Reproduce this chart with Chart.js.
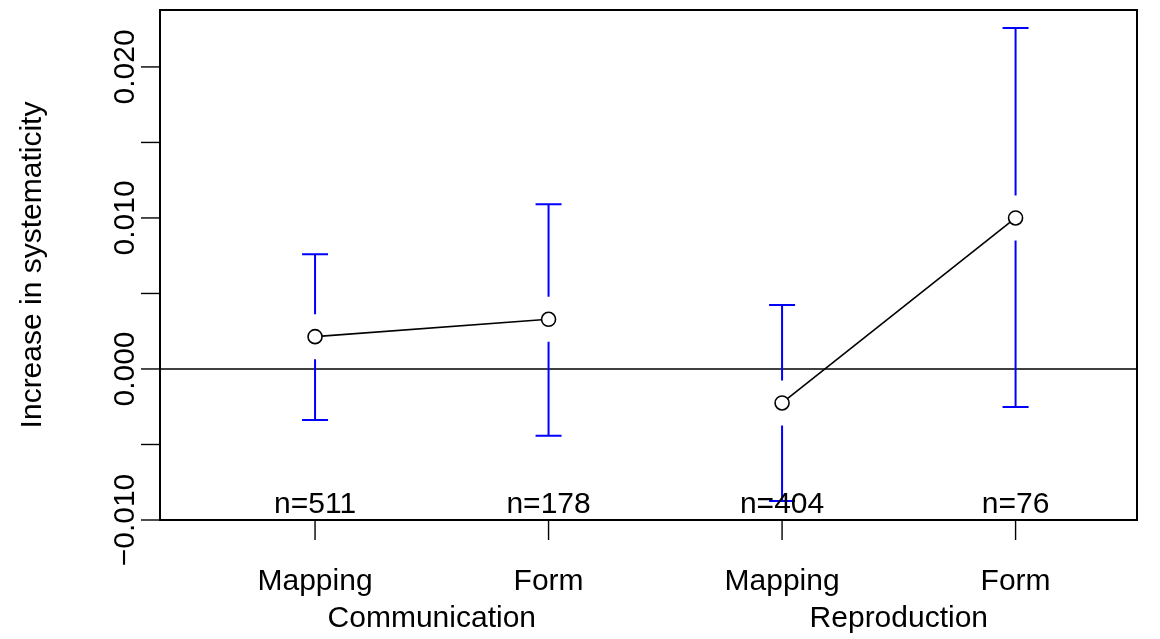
<!DOCTYPE html>
<html>
<head>
<meta charset="utf-8">
<script src="https://cdn.jsdelivr.net/npm/chart.js"></script>
<style>
  html, body { margin: 0; padding: 0; background: #fff; }
  #wrap { width: 1160px; height: 639px; }
</style>
</head>
<body>
<div id="wrap"><canvas id="grafico" width="1160" height="639"></canvas></div>
<script>
// dados
const condicoes = ['Mapping', 'Form', 'Mapping', 'Form'];
const grupos = ['Communication', 'Reproduction'];
const grupoDe = [0, 0, 1, 1];
const posX = [1, 2, 3, 4];
const medias = [0.00214, 0.00329, -0.00225, 0.0100];
const limSup = [0.00760, 0.01091, 0.00424, 0.02258];
const limInf = [-0.00338, -0.00442, -0.00874, -0.00252];
const contagens = [511, 178, 404, 76];
const yTicks = [-0.010, -0.005, 0.000, 0.005, 0.010, 0.015, 0.020];
const yTickLabels = ['\u22120.010', '', '0.000', '', '0.010', '', '0.020'];
const tituloY = 'Increase in systematicity';

const FONTE = '30px "Liberation Sans", Arial, Helvetica, sans-serif';

// uma serie de linha por grupo
const datasets = grupos.map((g, gi) => ({
    label: g,
    data: posX.filter((_, i) => grupoDe[i] === gi).map((x) => {
        const i = posX.indexOf(x);
        return { x: x, y: medias[i] };
    }),
    borderColor: '#000',
    borderWidth: 1.6,
    pointRadius: 7,
    pointHoverRadius: 7,
    pointBorderWidth: 1.6,
    pointBackgroundColor: '#fff',
    pointBorderColor: '#000',
    tension: 0
}));

const pluginR = {
    id: 'estiloR',
    beforeDatasetsDraw(chart) {
        const { ctx, chartArea: a, scales: { x, y } } = chart;
        ctx.save();
        // linha do zero
        ctx.strokeStyle = '#000';
        ctx.lineWidth = 1.6;
        ctx.beginPath();
        ctx.moveTo(a.left, y.getPixelForValue(0));
        ctx.lineTo(a.right, y.getPixelForValue(0));
        ctx.stroke();

        // barras de erro (com intervalo em volta do ponto)
        ctx.strokeStyle = '#0000ff';
        ctx.lineWidth = 2;
        const gap = 22.5, cap = 13;
        posX.forEach((xv, i) => {
            const px = x.getPixelForValue(xv);
            const pm = y.getPixelForValue(medias[i]);
            const pt = y.getPixelForValue(limSup[i]);
            const pb = y.getPixelForValue(limInf[i]);
            ctx.beginPath();
            ctx.moveTo(px, pt); ctx.lineTo(px, pm - gap);
            ctx.moveTo(px, pm + gap); ctx.lineTo(px, pb);
            ctx.moveTo(px - cap, pt); ctx.lineTo(px + cap, pt);
            ctx.moveTo(px - cap, pb); ctx.lineTo(px + cap, pb);
            ctx.stroke();
        });
        ctx.restore();
    },
    afterDraw(chart) {
        const { ctx, chartArea: a, scales: { x, y } } = chart;
        ctx.save();
        ctx.strokeStyle = '#000';
        ctx.fillStyle = '#000';

        // caixa
        ctx.lineWidth = 2;
        ctx.strokeRect(a.left, a.top, a.right - a.left, a.bottom - a.top);

        // eixo y
        ctx.lineWidth = 1.4;
        ctx.font = FONTE;
        ctx.textAlign = 'center';
        ctx.textBaseline = 'alphabetic';
        yTicks.forEach((v, i) => {
            const py = y.getPixelForValue(v);
            ctx.beginPath();
            ctx.moveTo(a.left - 19, py);
            ctx.lineTo(a.left, py);
            ctx.stroke();
            if (yTickLabels[i]) {
                ctx.save();
                ctx.translate(134, py);
                ctx.rotate(-Math.PI / 2);
                ctx.fillText(yTickLabels[i], 0, 0);
                ctx.restore();
            }
        });

        // titulo y
        ctx.save();
        ctx.translate(41, (a.top + a.bottom) / 2);
        ctx.rotate(-Math.PI / 2);
        ctx.fillText(tituloY, 0, 0);
        ctx.restore();

        // eixo x, contagens e rotulos
        posX.forEach((xv, i) => {
            const px = x.getPixelForValue(xv);
            ctx.beginPath();
            ctx.moveTo(px, a.bottom);
            ctx.lineTo(px, a.bottom + 20);
            ctx.stroke();
            ctx.fillText('n=' + contagens[i], px, 513);
            ctx.fillText(condicoes[i], px, 590);
        });
        grupos.forEach((g, gi) => {
            const xs = posX.filter((_, i) => grupoDe[i] === gi);
            const centro = (xs[0] + xs[xs.length - 1]) / 2;
            ctx.fillText(g, x.getPixelForValue(centro), 627);
        });
        ctx.restore();
    }
};

new Chart(document.getElementById('grafico').getContext('2d'), {
    type: 'line',
    data: { datasets: datasets },
    options: {
        responsive: false,
        animation: false,
        layout: { padding: { left: 160, right: 23, top: 10, bottom: 119 } },
        scales: {
            x: { type: 'linear', min: 0.336, max: 4.52, display: false },
            y: { type: 'linear', min: -0.010, max: 0.02377, display: false }
        },
        plugins: { legend: { display: false }, tooltip: { enabled: false } }
    },
    plugins: [pluginR]
});
</script>
</body>
</html>
